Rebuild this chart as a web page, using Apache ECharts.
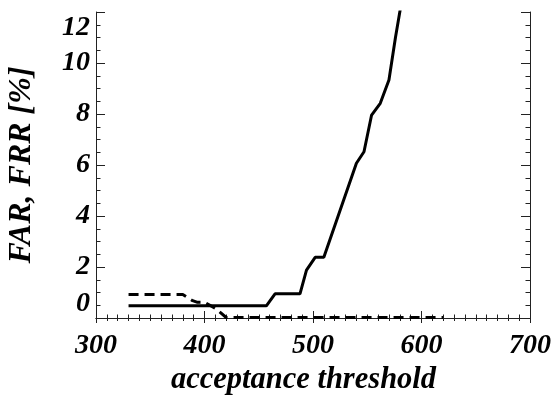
<!DOCTYPE html>
<html>
<head>
<meta charset="utf-8">
<script src="https://cdn.jsdelivr.net/npm/echarts@6/dist/echarts.min.js"></script>
<style>
  html, body { margin: 0; padding: 0; background: #fff; }
  #chart { width: 556px; height: 396px; }
</style>
</head>
<body>
<div id="chart"></div>
<script>
// FRR (solid) and FAR (dashed) against acceptance threshold
const frrX = [330, 457, 465, 488, 494, 502, 510, 540, 547, 554, 562, 570, 576, 582];
const frrY = [0.48, 0.48, 0.95, 0.95, 1.88, 2.38, 2.38, 6.07, 6.52, 7.96, 8.42, 9.33, 11.0, 12.5];
const farX = [330, 380, 389, 393, 400, 410, 420, 620];
const farY = [0.92, 0.92, 0.68, 0.62, 0.62, 0.38, 0.02, 0.02];
const xTicks = [300, 400, 500, 600, 700];
const yTicks = [0, 2, 4, 6, 8, 10, 12];

const font = {
  fontFamily: "Liberation Serif",
  fontWeight: "bold",
  fontStyle: "italic",
  fontSize: 28,
  color: "#000",
};
const axisColor = "#222";

const chart = echarts.init(document.getElementById("chart"), null, { renderer: "canvas" });

const xBase = {
  type: "value",
  min: xTicks[0],
  max: xTicks[xTicks.length - 1],
  interval: 100,
  axisLine: { show: true, lineStyle: { color: axisColor, width: 1 } },
  axisTick: { show: true, inside: true, length: 7, lineStyle: { color: axisColor } },
  minorTick: { show: true, splitNumber: 10, length: 3.5, lineStyle: { color: axisColor } },
  splitLine: { show: false },
};
const yBase = {
  type: "value",
  min: yTicks[0],
  max: yTicks[yTicks.length - 1],
  interval: 2,
  axisLine: { show: true, lineStyle: { color: axisColor, width: 1 } },
  axisTick: { show: true, inside: true, length: 9, lineStyle: { color: axisColor } },
  minorTick: { show: true, splitNumber: 4, length: 4.5, lineStyle: { color: axisColor } },
  splitLine: { show: false },
};

const option = {
  animation: false,
  grid: { left: 96, right: 26, top: 12, bottom: 78, containLabel: false, outerBoundsMode: "none" },
  xAxis: [
    {
      ...xBase,
      position: "bottom",
      name: "acceptance threshold",
      nameLocation: "middle",
      nameGap: 37,
      nameTextStyle: { ...font, fontSize: 30.5, padding: [0, 19, 0, 0] },
      axisLabel: { ...font, margin: 14 },
    },
    {
      ...xBase,
      position: "top",
      axisTick: { ...xBase.axisTick, length: 5 },
      minorTick: { ...xBase.minorTick, length: 3 },
      axisLabel: { show: false },
    },
  ],
  yAxis: [
    {
      ...yBase,
      position: "left",
      name: "FAR, FRR [%]",
      nameLocation: "middle",
      nameGap: 58,
      nameTextStyle: { ...font, fontSize: 32 },
      axisLabel: {
        ...font,
        margin: 6,
        padding: [2, 0, 0, 0],
        verticalAlignMinLabel: "bottom",
        verticalAlignMaxLabel: "top",
      },
    },
    {
      ...yBase,
      position: "right",
      axisLabel: { show: false },
    },
  ],
  series: [
    {
      type: "line",
      data: frrX.map((x, i) => [x, frrY[i]]),
      showSymbol: false,
      lineStyle: { color: "#000", width: 3 },
      clip: true,
    },
    {
      type: "line",
      data: farX.map((x, i) => [x, farY[i]]),
      showSymbol: false,
      lineStyle: { color: "#000", width: 3, type: [10, 6] },
      clip: false,
    },
  ],
};

chart.setOption(option);
</script>
</body>
</html>
